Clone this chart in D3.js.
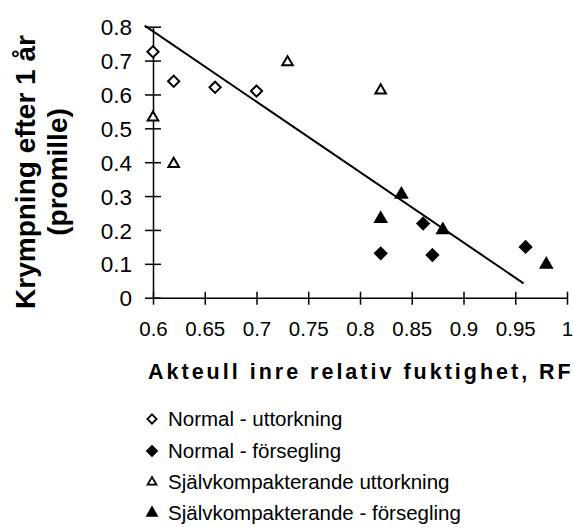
<!DOCTYPE html>
<html>
<head>
<meta charset="utf-8">
<script src="https://cdn.jsdelivr.net/npm/d3@7"></script>
<style>
  html, body { margin: 0; padding: 0; background: #fff; }
  svg { display: block; font-family: "Liberation Sans", Arial, sans-serif; }
</style>
</head>
<body>
<svg id="chart" width="573" height="527"></svg>
<script>
// ---- data ----
const normalUttorkningX = [0.60, 0.62, 0.66, 0.70];
const normalUttorkningY = [0.726, 0.639, 0.621, 0.610];

const normalForseglingX = [0.82, 0.861, 0.87, 0.96];
const normalForseglingY = [0.131, 0.219, 0.126, 0.150];

const sjalvUttorkningX = [0.60, 0.62, 0.73, 0.82];
const sjalvUttorkningY = [0.532, 0.395, 0.695, 0.612];

const sjalvForseglingX = [0.82, 0.84, 0.88, 0.98];
const sjalvForseglingY = [0.233, 0.305, 0.200, 0.098];

const trendX = [0.592, 0.958];
const trendY = [0.803, 0.0425];

const xTicks = [0.6, 0.65, 0.7, 0.75, 0.8, 0.85, 0.9, 0.95, 1];
const yTicks = [0, 0.1, 0.2, 0.3, 0.4, 0.5, 0.6, 0.7, 0.8];

const legendLabels = [
  "Normal - uttorkning",
  "Normal - försegling",
  "Självkompakterande uttorkning",
  "Självkompakterande - försegling"
];
const xTitle = "Akteull inre relativ fuktighet, RF";
const yTitleLines = ["Krympning efter 1 år", "(promille)"];

// ---- drawing ----
const svg = d3.select("#chart");
const x = d3.scaleLinear().domain([0.6, 1]).range([153, 567]);
const y = d3.scaleLinear().domain([0, 0.8]).range([297.7, 26.7]);

const fmt = d => (d === 0 ? "0" : d === 1 ? "1" : String(d));

// x axis
const xAxis = svg.append("g").attr("transform", `translate(0,${y(0)})`)
  .call(d3.axisBottom(x).tickValues(xTicks).tickFormat(fmt).tickSizeInner(0).tickSizeOuter(0).tickPadding(0));
xAxis.select(".domain").attr("stroke", "#000").attr("stroke-width", 1.5);
xAxis.selectAll(".tick line").attr("y1", -6).attr("y2", 7).attr("stroke", "#000").attr("stroke-width", 1.5);
xAxis.selectAll(".tick text").attr("y", 38).attr("dy", 0).attr("font-size", 20.5)
  .attr("font-family", "Liberation Sans, Arial, sans-serif").attr("fill", "#000");

// y axis
const yAxis = svg.append("g").attr("transform", `translate(${x(0.6)},0)`)
  .call(d3.axisLeft(y).tickValues(yTicks).tickFormat(fmt).tickSizeInner(0).tickSizeOuter(0).tickPadding(0));
yAxis.select(".domain").attr("stroke", "#000").attr("stroke-width", 1.5);
yAxis.selectAll(".tick line").attr("x1", -8).attr("x2", 8).attr("stroke", "#000").attr("stroke-width", 1.5);
yAxis.selectAll(".tick text").attr("x", -21).attr("dy", "0.36em").attr("font-size", 22.5)
  .attr("font-family", "Liberation Sans, Arial, sans-serif").attr("fill", "#000");

// trend line
const line = d3.line().x(d => x(d[0])).y(d => y(d[1]));
svg.append("path").datum(d3.zip(trendX, trendY)).attr("d", line)
  .attr("fill", "none").attr("stroke", "#000").attr("stroke-width", 2);

// markers
function drawSeries(xs, ys, type, size, filled, sw) {
  svg.append("g").selectAll("path").data(d3.zip(xs, ys)).join("path")
    .attr("transform", d => `translate(${x(d[0])},${y(d[1])})`)
    .attr("d", d3.symbol().type(type).size(size)())
    .attr("fill", filled ? "#000" : "#fff")
    .attr("stroke", "#000").attr("stroke-width", sw).attr("stroke-linejoin", "miter");
}
drawSeries(normalUttorkningX, normalUttorkningY, d3.symbolDiamond2, 80, false, 2);
drawSeries(normalForseglingX, normalForseglingY, d3.symbolDiamond2, 95, true, 1.5);
drawSeries(sjalvUttorkningX, sjalvUttorkningY, d3.symbolTriangle2, 80, false, 2);
drawSeries(sjalvForseglingX, sjalvForseglingY, d3.symbolTriangle2, 105, true, 1.5);

// axis titles
svg.append("text").attr("x", 148).attr("y", 379)
  .attr("font-size", 21.5).attr("font-weight", "bold").attr("letter-spacing", 3.0)
  .text(xTitle);

const yt = svg.append("text").attr("transform", "translate(35,172) rotate(-90)")
  .attr("font-size", 28).attr("font-weight", "bold").attr("text-anchor", "middle");
yt.selectAll("tspan").data(yTitleLines).join("tspan")
  .attr("x", 0).attr("dy", (d, i) => i === 0 ? 0 : 32).text(d => d);

// legend
const legendSyms = [
  { t: d3.symbolDiamond2, f: false, s: 55 },
  { t: d3.symbolDiamond2, f: true, s: 65 },
  { t: d3.symbolTriangle2, f: false, s: 55 },
  { t: d3.symbolTriangle2, f: true, s: 70 }
];
const lg = svg.append("g");
const rowsY = [419, 451, 482, 513];
legendLabels.forEach((lab, i) => {
  const ls = legendSyms[i];
  lg.append("path").attr("transform", `translate(152,${rowsY[i]})`)
    .attr("d", d3.symbol().type(ls.t).size(ls.s)())
    .attr("fill", ls.f ? "#000" : "#fff").attr("stroke", "#000").attr("stroke-width", 1.8);
  lg.append("text").attr("x", 168).attr("y", rowsY[i]).attr("dy", "0.35em")
    .attr("font-size", 20.5).text(lab);
});
</script>
</body>
</html>
